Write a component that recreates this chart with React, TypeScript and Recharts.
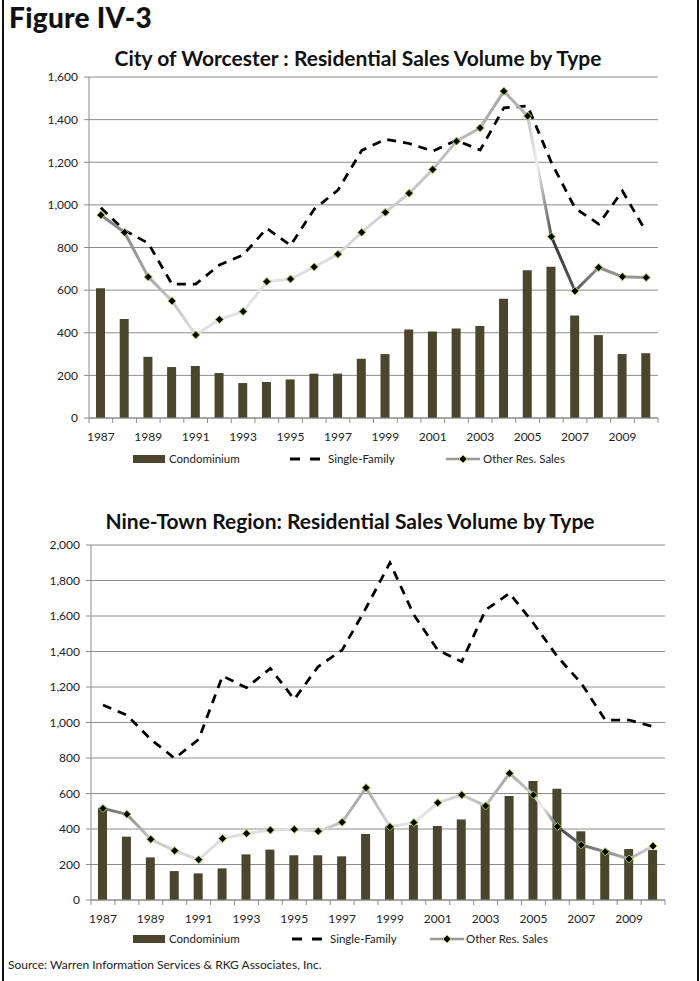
import { ComposedChart, Bar, Line, XAxis, YAxis, CartesianGrid } from "recharts";

const years = [
  1987, 1988, 1989, 1990, 1991, 1992, 1993, 1994, 1995, 1996, 1997, 1998,
  1999, 2000, 2001, 2002, 2003, 2004, 2005, 2006, 2007, 2008, 2009, 2010,
];

// City of Worcester
const worcesterCondo = [609, 464, 287, 239, 244, 211, 164, 169, 181, 208, 208, 278, 300, 415, 406, 420, 432, 560, 693, 710, 481, 389, 300, 304];
const worcesterSingle = [987, 880, 820, 628, 628, 718, 765, 890, 810, 980, 1069, 1255, 1308, 1288, 1252, 1303, 1257, 1455, 1464, 1200, 985, 910, 1065, 874];
const worcesterOther = [952, 871, 662, 549, 390, 462, 500, 640, 652, 709, 768, 871, 965, 1054, 1166, 1299, 1361, 1533, 1417, 851, 596, 706, 663, 659];
const worcesterTicks = [0, 200, 400, 600, 800, 1000, 1200, 1400, 1600];

// Nine-Town Region
const nineTownCondo = [520, 357, 240, 163, 150, 178, 257, 284, 252, 252, 246, 372, 412, 423, 417, 454, 541, 586, 670, 627, 387, 282, 287, 282];
const nineTownSingle = [1099, 1042, 905, 798, 905, 1262, 1196, 1305, 1131, 1315, 1408, 1645, 1900, 1606, 1408, 1343, 1634, 1728, 1559, 1371, 1221, 1014, 1014, 977];
const nineTownOther = [516, 483, 342, 278, 227, 346, 374, 394, 398, 387, 438, 633, 413, 436, 548, 592, 530, 714, 592, 413, 310, 272, 231, 304];
const nineTownTicks = [0, 200, 400, 600, 800, 1000, 1200, 1400, 1600, 1800, 2000];

const worcesterData = years.map((year, i) => ({
  year,
  condo: worcesterCondo[i],
  single: worcesterSingle[i],
  other: worcesterOther[i],
}));
const nineTownData = years.map((year, i) => ({
  year,
  condo: nineTownCondo[i],
  single: nineTownSingle[i],
  other: nineTownOther[i],
}));

const FONT = "Lato, 'Open Sans', sans-serif";
const BAR = "#4b452e";
const GRID = "#8c8c8c";

// grey shading along the "other" line, Excel gradient look
const worcesterStops: [number, string][] = [
  [0, "#7f7f7f"], [0.043, "#8a8a8a"], [0.087, "#a6a6a6"], [0.13, "#c4c4c4"],
  [0.174, "#e0e0e0"], [0.26, "#e3e3e3"], [0.435, "#dcdcdc"], [0.52, "#d0d0d0"],
  [0.65, "#bdbdbd"], [0.74, "#a5a5a5"], [0.78, "#bcbcbc"], [0.8, "#f2f2f2"],
  [0.83, "#3a3a3a"], [0.87, "#555555"], [0.91, "#8c8c8c"], [1, "#999999"],
];
const nineTownStops: [number, string][] = [
  [0, "#6e6e6e"], [0.043, "#8a8a8a"], [0.087, "#c8c8c8"], [0.174, "#dedede"],
  [0.39, "#dcdcdc"], [0.435, "#b8b8b8"], [0.478, "#a8a8a8"], [0.52, "#d8d8d8"],
  [0.565, "#e6e6e6"], [0.65, "#cfcfcf"], [0.74, "#a8a8a8"], [0.78, "#c8c8c8"],
  [0.8, "#efefef"], [0.83, "#4d4d4d"], [0.87, "#666666"], [0.91, "#8a8a8a"],
  [0.96, "#b0b0b0"], [1, "#cfcfcf"],
];

const renderDiamond = (props: any) => {
  const { cx, cy, index } = props;
  if (cx == null || cy == null) return <g key={index} />;
  const r = 4;
  return (
    <path
      key={index}
      d={`M${cx},${cy - r}L${cx + r},${cy}L${cx},${cy + r}L${cx - r},${cy}Z`}
      fill="#000"
      stroke="#9ccc3c"
      strokeWidth={1}
    />
  );
};

function makeYearTick(axisY: number, bw: number) {
  return (props: any) => {
    const { x, payload } = props;
    const idx = years.indexOf(payload.value);
    return (
      <g>
        <line x1={x - bw / 2} x2={x - bw / 2} y1={axisY} y2={axisY + 5} stroke={GRID} />
        {idx === years.length - 1 && (
          <line x1={x + bw / 2} x2={x + bw / 2} y1={axisY} y2={axisY + 5} stroke={GRID} />
        )}
        {idx % 2 === 0 && (
          <text x={x} y={axisY + 23} textAnchor="middle" fontSize={12} fill="#222" fontFamily={FONT}>
            {payload.value}
          </text>
        )}
      </g>
    );
  };
}

interface ChartProps {
  data: any[];
  ticks: number[];
  gradId: string;
  stops: [number, string][];
  height: number;
  plotLeft: number;
  plotRight: number;
  plotTop: number;
  plotBottom: number;
}

function SalesChart({ data, ticks, gradId, stops, height, plotLeft, plotRight, plotTop, plotBottom }: ChartProps) {
  const xAxisH = 30;
  const bw = (plotRight - plotLeft) / years.length;
  return (
    <ComposedChart
      width={700}
      height={height}
      data={data}
      margin={{ top: plotTop, right: 700 - plotRight, left: 0, bottom: height - plotBottom - xAxisH }}
    >
      <defs>
        <linearGradient id={gradId} x1="0" y1="0" x2="1" y2="0">
          {stops.map(([o, c]) => (
            <stop key={o} offset={o} stopColor={c} />
          ))}
        </linearGradient>
      </defs>
      <CartesianGrid vertical={false} stroke={GRID} strokeWidth={1} />
      <XAxis
        dataKey="year"
        interval={0}
        height={xAxisH}
        tickLine={false}
        axisLine={{ stroke: GRID }}
        tick={makeYearTick(plotBottom, bw)}
      />
      <YAxis
        width={plotLeft}
        domain={[0, ticks[ticks.length - 1]]}
        ticks={ticks}
        interval={0}
        tickSize={5}
        tickMargin={6}
        axisLine={{ stroke: GRID }}
        tickLine={{ stroke: GRID }}
        tick={{ fontSize: 12, fill: "#222", fontFamily: FONT }}
        tickFormatter={(v: number) => v.toLocaleString("en-US")}
      />
      <Bar dataKey="condo" fill={BAR} barSize={9} isAnimationActive={false} />
      <Line
        type="linear"
        dataKey="single"
        stroke="#000"
        strokeWidth={2.75}
        strokeDasharray="9 7"
        dot={false}
        isAnimationActive={false}
      />
      <Line
        type="linear"
        dataKey="other"
        stroke={`url(#${gradId})`}
        strokeWidth={3}
        dot={renderDiamond}
        isAnimationActive={false}
      />
    </ComposedChart>
  );
}

function LegendRow({ top, condoX, singleX, otherX, otherTextX }: { top: number; condoX: number; singleX: number; otherX: number; otherTextX: number }) {
  const text = { position: "absolute" as const, top: top - 8, fontSize: 11.5, color: "#222", lineHeight: "16px" };
  return (
    <>
      <div style={{ position: "absolute", left: condoX, top: top - 4, width: 32, height: 8, background: BAR }} />
      <div style={{ ...text, left: condoX + 36 }}>Condominium</div>
      <svg style={{ position: "absolute", left: singleX, top: top - 3 }} width={32} height={6}>
        <line x1={0} x2={10} y1={3} y2={3} stroke="#000" strokeWidth={3} />
        <line x1={20} x2={30} y1={3} y2={3} stroke="#000" strokeWidth={3} />
      </svg>
      <div style={{ ...text, left: singleX + 38 }}>Single-Family</div>
      <svg style={{ position: "absolute", left: otherX, top: top - 6 }} width={36} height={12}>
        <line x1={0} x2={34} y1={6} y2={6} stroke="#999" strokeWidth={2.5} />
        <path d="M17,2L21,6L17,10L13,6Z" fill="#000" stroke="#9ccc3c" strokeWidth={1} />
      </svg>
      <div style={{ ...text, left: otherTextX }}>Other Res. Sales</div>
    </>
  );
}

export default function App() {
  return (
    <div
      style={{
        position: "absolute",
        left: 0,
        top: 0,
        width: 700,
        height: 981,
        background: "#fff",
        fontFamily: FONT,
        overflow: "hidden",
      }}
    >
      <div style={{ position: "absolute", left: 2, top: 0, width: 2, height: 981, background: "#111" }} />
      <div style={{ position: "absolute", left: 697, top: 0, width: 2, height: 981, background: "#111" }} />
      <div style={{ position: "absolute", left: 9, top: 0, fontSize: 28, fontWeight: 900, color: "#111", letterSpacing: 0.3 }}>
        Figure IV-3
      </div>

      <div style={{ position: "absolute", left: 0, top: 0 }}>
        <SalesChart
          data={worcesterData}
          ticks={worcesterTicks}
          gradId="gradWorcester"
          stops={worcesterStops}
          height={481}
          plotLeft={89}
          plotRight={658}
          plotTop={77}
          plotBottom={418}
        />
      </div>
      <div style={{ position: "absolute", left: 8, width: 700, top: 45, textAlign: "center", fontSize: 21, fontWeight: 700, color: "#111" }}>
        City of Worcester : Residential Sales Volume by Type
      </div>
      <LegendRow top={459} condoX={133} singleX={290} otherX={446} otherTextX={483} />

      <div style={{ position: "absolute", left: 0, top: 481 }}>
        <SalesChart
          data={nineTownData}
          ticks={nineTownTicks}
          gradId="gradNineTown"
          stops={nineTownStops}
          height={500}
          plotLeft={91}
          plotRight={665}
          plotTop={64}
          plotBottom={419}
        />
      </div>
      <div style={{ position: "absolute", left: 0, width: 700, top: 508, textAlign: "center", fontSize: 21, fontWeight: 700, color: "#111" }}>
        Nine-Town Region: Residential Sales Volume by Type
      </div>
      <LegendRow top={939} condoX={133} singleX={292} otherX={430} otherTextX={466} />

      <div style={{ position: "absolute", left: 8, top: 957, fontSize: 12, color: "#222" }}>
        Source: Warren Information Services &amp; RKG Associates, Inc.
      </div>
    </div>
  );
}
